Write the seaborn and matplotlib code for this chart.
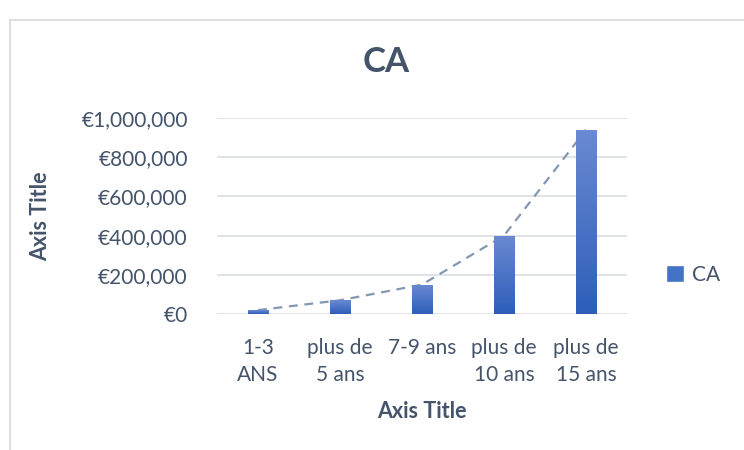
import numpy as np
import pandas as pd
import seaborn as sns
import matplotlib.pyplot as plt
from matplotlib.patches import Rectangle, Patch
from matplotlib.ticker import FuncFormatter

# data
categories = ["1-3\nANS", "plus de\n5 ans", "7-9 ans", "plus de\n10 ans", "plus de\n15 ans"]
ca_values = [20000, 70000, 150000, 400000, 940000]
y_ticks = [0, 200000, 400000, 600000, 800000, 1000000]

text_col = "#44546A"
grid_col = "#D9DDE3"
bar_top = "#6A8AD2"
bar_bot = "#2E5EB9"

sns.set_theme(style="white")
plt.rcParams["font.family"] = ["Lato", "DejaVu Sans"]

df = pd.DataFrame({"cat": categories, "CA": ca_values})

fig = plt.figure(figsize=(7.44, 4.5), dpi=100)
ax = fig.add_axes([217 / 744, 1 - 314 / 450, 410 / 744, 196 / 450])

# outer chart border
fig.patches.append(Rectangle((10 / 744, -0.1), 1.2, 1 - 20 / 450 + 0.1,
                             transform=fig.transFigure, fill=False,
                             edgecolor="#D9D9D9", linewidth=1.2))

sns.barplot(data=df, x="cat", y="CA", color=bar_bot, width=0.25, ax=ax, zorder=3)

# gradient fill for each bar
grad = np.linspace(0, 1, 256).reshape(-1, 1)
cmap = sns.blend_palette([bar_bot, bar_top], as_cmap=True)
for p in list(ax.patches):
    x, w, h = p.get_x(), p.get_width(), p.get_height()
    im = ax.imshow(grad, extent=[x, x + w, 0, h], origin="lower", cmap=cmap,
                   aspect="auto", zorder=3)
    im.set_clip_path(p)
    p.set_facecolor("none")
    p.set_edgecolor("none")

# dashed trend line through the bar tops (behind the bars)
sns.lineplot(x=np.arange(len(categories)), y=ca_values, ax=ax, color="#8497B0",
             linestyle=(0, (4, 3)), linewidth=1.6, zorder=2)

ax.set_xlim(-0.5, len(categories) - 0.5)
ax.set_ylim(0, 1000000)
ax.set_yticks(y_ticks)
ax.yaxis.set_major_formatter(FuncFormatter(lambda v, _: f"€{int(v):,}"))
ax.grid(axis="y", color=grid_col, linewidth=1.2, zorder=0)
ax.set_axisbelow(True)
for s in ax.spines.values():
    s.set_visible(False)

ax.tick_params(axis="y", length=0, pad=21, labelsize=15, labelcolor=text_col)
ax.tick_params(axis="x", length=0, pad=17, labelsize=15, labelcolor=text_col)
for lab in ax.get_xticklabels():
    lab.set_linespacing(1.45)

ax.set_xlabel("Axis Title", fontsize=15.5, fontweight="bold", color=text_col, labelpad=12)
ax.set_ylabel("Axis Title", fontsize=15.5, fontweight="bold", color=text_col, labelpad=22)

fig.text(386 / 744, 1 - 62 / 450, "CA", ha="center", va="center",
         fontsize=25, fontweight="bold", color=text_col)

ax.legend(handles=[Patch(facecolor="#4472C4", label="CA")], loc="center left",
          bbox_to_anchor=(1.05, 0.2), frameon=False, fontsize=15,
          handlelength=0.85, handleheight=0.85, handletextpad=0.4,
          labelcolor=text_col)

fig.savefig("out.png", dpi=100)
